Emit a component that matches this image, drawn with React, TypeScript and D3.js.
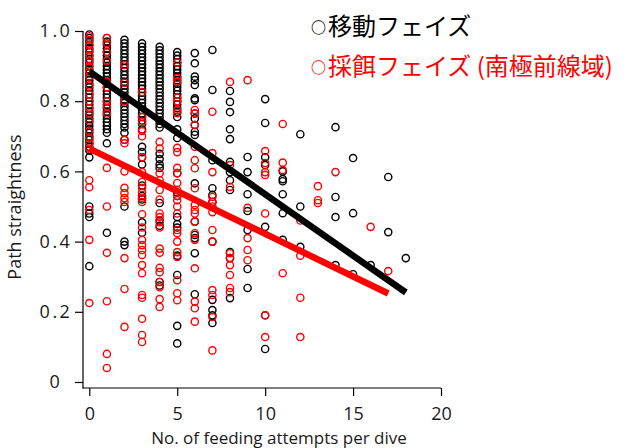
import React, { useEffect, useRef } from 'react';
import * as d3 from 'd3';

// axis ticks
const xTicks = [0, 5, 10, 15, 20];
const yTicks = [0, 0.2, 0.4, 0.6, 0.8, 1.0];
const yTickLabels = ['0', '0.2', '0.4', '0.6', '0.8', '1.0'];

// 移動フェイズ (black): [feeding attempts, path straightness values]
const travelPoints: [number, number[]][] = [
  [0, [0.99, 0.98, 0.97, 0.96, 0.95, 0.94, 0.93, 0.92, 0.91, 0.90, 0.89, 0.88, 0.87, 0.86, 0.85, 0.84, 0.83, 0.82, 0.81, 0.80, 0.79, 0.78, 0.77, 0.76, 0.75, 0.74, 0.73, 0.72, 0.71, 0.70, 0.69, 0.68, 0.67, 0.66, 0.64, 0.50, 0.48, 0.47, 0.33]],
  [1, [0.98, 0.97, 0.96, 0.95, 0.94, 0.93, 0.92, 0.91, 0.90, 0.89, 0.88, 0.87, 0.86, 0.85, 0.84, 0.83, 0.82, 0.81, 0.80, 0.79, 0.78, 0.77, 0.76, 0.75, 0.74, 0.73, 0.72, 0.71, 0.68, 0.425]],
  [2, [0.975, 0.965, 0.955, 0.945, 0.935, 0.925, 0.915, 0.905, 0.895, 0.885, 0.875, 0.865, 0.855, 0.845, 0.835, 0.825, 0.815, 0.805, 0.795, 0.785, 0.775, 0.765, 0.755, 0.745, 0.735, 0.725, 0.71, 0.69, 0.50, 0.40, 0.39]],
  [3, [0.965, 0.955, 0.945, 0.935, 0.925, 0.915, 0.905, 0.895, 0.885, 0.875, 0.865, 0.855, 0.845, 0.835, 0.825, 0.815, 0.805, 0.795, 0.785, 0.775, 0.765, 0.755, 0.745, 0.735, 0.72, 0.67, 0.655, 0.64, 0.62, 0.56, 0.53, 0.52, 0.455, 0.425]],
  [4, [0.955, 0.945, 0.935, 0.925, 0.915, 0.905, 0.895, 0.885, 0.875, 0.865, 0.855, 0.845, 0.835, 0.825, 0.815, 0.805, 0.795, 0.785, 0.775, 0.765, 0.755, 0.745, 0.735, 0.725, 0.65, 0.635, 0.62, 0.61, 0.51, 0.46, 0.445, 0.285, 0.275]],
  [5, [0.94, 0.93, 0.92, 0.91, 0.90, 0.89, 0.88, 0.87, 0.86, 0.85, 0.84, 0.83, 0.82, 0.81, 0.80, 0.79, 0.78, 0.77, 0.755, 0.72, 0.695, 0.595, 0.54, 0.53, 0.47, 0.45, 0.44, 0.36, 0.305, 0.16, 0.11]],
  [6, [0.937, 0.908, 0.87, 0.86, 0.846, 0.808, 0.803, 0.765, 0.751, 0.732, 0.713, 0.704, 0.566, 0.457, 0.419, 0.41, 0.367, 0.25]],
  [7, [0.946, 0.832, 0.632, 0.552, 0.533, 0.513, 0.40, 0.234, 0.205, 0.19, 0.168]],
  [8, [0.829, 0.798, 0.769, 0.72, 0.692, 0.627, 0.598, 0.575, 0.547, 0.37, 0.353, 0.239]],
  [9, [0.641, 0.598, 0.535, 0.487, 0.433, 0.322, 0.268]],
  [10, [0.806, 0.738, 0.64, 0.618, 0.442, 0.19, 0.094]],
  [11, [0.60, 0.578, 0.572, 0.535, 0.481, 0.405]],
  [12, [0.706, 0.50, 0.385]],
  [14, [0.726, 0.527, 0.47, 0.333]],
  [15, [0.638, 0.481, 0.307]],
  [16, [0.333]],
  [17, [0.584, 0.427]],
  [18, [0.353]],
];

// 採餌フェイズ (南極前線域) (red)
const feedingPoints: [number, number[]][] = [
  [0, [0.985, 0.975, 0.96, 0.945, 0.93, 0.915, 0.90, 0.885, 0.87, 0.845, 0.82, 0.80, 0.78, 0.765, 0.745, 0.715, 0.695, 0.68, 0.665, 0.575, 0.555, 0.49, 0.405, 0.225]],
  [1, [0.98, 0.965, 0.94, 0.915, 0.855, 0.84, 0.80, 0.785, 0.765, 0.61, 0.50, 0.368, 0.23, 0.08, 0.04]],
  [2, [0.903, 0.852, 0.80, 0.69, 0.68, 0.60, 0.553, 0.538, 0.524, 0.513, 0.353, 0.265, 0.157]],
  [3, [0.826, 0.755, 0.74, 0.715, 0.70, 0.64, 0.598, 0.57, 0.553, 0.54, 0.525, 0.513, 0.478, 0.44, 0.405, 0.39, 0.376, 0.362, 0.333, 0.31, 0.248, 0.24, 0.18, 0.134, 0.114]],
  [4, [0.684, 0.665, 0.595, 0.575, 0.547, 0.52, 0.48, 0.47, 0.455, 0.44, 0.38, 0.368, 0.325, 0.313, 0.285, 0.27, 0.236, 0.214]],
  [5, [0.91, 0.866, 0.855, 0.81, 0.80, 0.775, 0.766, 0.667, 0.655, 0.61, 0.595, 0.567, 0.547, 0.53, 0.518, 0.50, 0.48, 0.433, 0.424, 0.40, 0.37, 0.356, 0.29, 0.253, 0.233]],
  [6, [0.775, 0.765, 0.732, 0.67, 0.632, 0.609, 0.552, 0.504, 0.49, 0.48, 0.457, 0.424, 0.405, 0.324, 0.229, 0.21, 0.172]],
  [7, [0.77, 0.652, 0.598, 0.527, 0.513, 0.50, 0.484, 0.433, 0.40, 0.262, 0.248, 0.185, 0.09]],
  [8, [0.855, 0.618, 0.556, 0.367, 0.353, 0.333, 0.305, 0.268, 0.256]],
  [9, [0.86, 0.496, 0.41, 0.376, 0.347]],
  [10, [0.658, 0.624, 0.598, 0.59, 0.48, 0.19, 0.128]],
  [11, [0.735, 0.625, 0.604, 0.31]],
  [12, [0.46, 0.36, 0.24, 0.128]],
  [13, [0.558, 0.518, 0.51]],
  [14, [0.598]],
  [16, [0.442]],
  [17, [0.316]],
];

// fitted regression lines (endpoints)
const travelFit: [number, number][] = [[0, 0.885], [18, 0.255]];
const feedingFit: [number, number][] = [[0, 0.665], [17, 0.252]];

const legendLabels = ['移動フェイズ', '採餌フェイズ (南極前線域)'];
const seriesColors = ['#000000', '#ff0000'];

export default function App() {
  const ref = useRef<SVGSVGElement | null>(null);

  useEffect(() => {
    if (!ref.current) return;
    const svg = d3.select(ref.current);
    svg.selectAll('*').remove();

    const font = '"Open Sans", "Liberation Sans", sans-serif';
    const x = d3.scaleLinear().domain([0, 20]).range([89.3, 441]);
    const y = d3.scaleLinear().domain([0, 1]).range([382, 31]);

    // y axis
    const gy = svg.append('g').attr('transform', 'translate(83,0)')
      .call(d3.axisLeft(y).tickValues(yTicks).tickFormat((_, i) => yTickLabels[i]).tickSize(8).tickSizeOuter(0));
    gy.select('.domain').remove();
    gy.attr('font-family', font).attr('font-size', 18);
    gy.selectAll('line').attr('stroke-width', 1.2);
    gy.selectAll('text').attr('x', -27).attr('text-anchor', 'middle').attr('fill', '#1a1a1a').attr('letter-spacing', 2.5);

    // x axis
    const gx = svg.append('g').attr('transform', 'translate(0,388)')
      .call(d3.axisBottom(x).tickValues(xTicks).tickFormat(d3.format('d')).tickSize(8).tickSizeOuter(0));
    gx.select('.domain').remove();
    gx.attr('font-family', font).attr('font-size', 18);
    gx.selectAll('line').attr('stroke-width', 1.2);
    gx.selectAll('text').attr('y', 19).attr('fill', '#1a1a1a');

    // axis lines (L shape)
    svg.append('line').attr('x1', 83).attr('x2', 83).attr('y1', y(1)).attr('y2', 388.5)
      .attr('stroke', '#000').attr('stroke-width', 1.2);
    svg.append('line').attr('x1', 82.5).attr('x2', x(20)).attr('y1', 388).attr('y2', 388)
      .attr('stroke', '#000').attr('stroke-width', 1.2);

    // points
    [travelPoints, feedingPoints].forEach((series, si) => {
      const pts = series.flatMap(([k, vs]) => vs.map(v => [k, v] as [number, number]));
      svg.append('g').selectAll('circle').data(pts).join('circle')
        .attr('cx', d => x(d[0]))
        .attr('cy', d => y(d[1]))
        .attr('r', 3.6)
        .attr('fill', 'none')
        .attr('stroke', seriesColors[si])
        .attr('stroke-width', 1.4);
    });

    // regression lines
    const line = d3.line<[number, number]>().x(d => x(d[0])).y(d => y(d[1]));
    [travelFit, feedingFit].forEach((fit, si) => {
      svg.append('path').attr('d', line(fit)).attr('fill', 'none')
        .attr('stroke', seriesColors[si]).attr('stroke-width', 6.5);
    });

    // axis titles
    svg.append('text').attr('transform', 'translate(21,207) rotate(-90)')
      .attr('text-anchor', 'middle').attr('font-family', font).attr('font-size', 18)
      .attr('fill', '#1a1a1a').text('Path straightness');
    svg.append('text').attr('x', 279).attr('y', 444)
      .attr('text-anchor', 'middle').attr('font-family', font).attr('font-size', 17)
      .attr('fill', '#1a1a1a').text('No. of feeding attempts per dive');

    // legend
    legendLabels.forEach((label, i) => {
      const t = svg.append('text').attr('x', 311).attr('y', 34.5 + i * 40)
        .attr('font-family', '"Noto Sans CJK JP", sans-serif').attr('fill', seriesColors[i]);
      t.append('tspan').attr('font-size', 15).attr('font-weight', 'bold').attr('dy', -2).text('○');
      t.append('tspan').attr('font-size', 24).attr('dx', 2).attr('dy', 2).text(label);
    });
  }, []);

  return (
    <svg ref={ref} width={627} height={448} viewBox="0 0 627 448"
      style={{ position: 'absolute', left: 0, top: 0, background: '#fff' }} />
  );
}
